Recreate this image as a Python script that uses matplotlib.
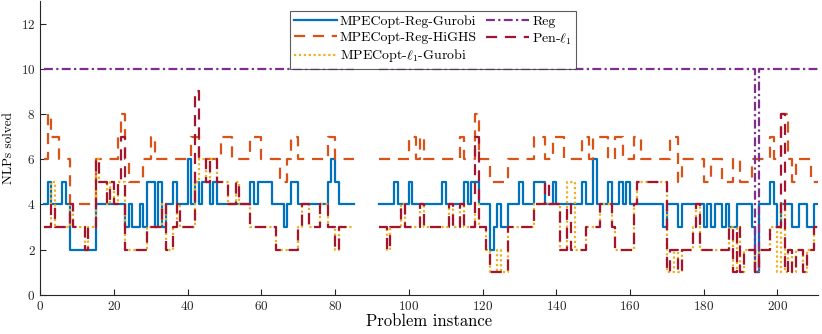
import numpy as np
import matplotlib
matplotlib.use('Agg')
import matplotlib.pyplot as plt

plt.rcParams['font.family'] = 'serif'
plt.rcParams['font.serif'] = ['cmr10', 'DejaVu Serif']
plt.rcParams['mathtext.fontset'] = 'cm'
plt.rcParams['axes.formatter.use_mathtext'] = True

n = np.nan

# number of NLPs solved per problem instance (instances 1..210)
reg_gurobi = [
    4, 5, 4, 4, 4, 5, 4, 2, 2, 2,
    2, 2, 2, 2, 4, 4, 4, 4, 4, 4,
    4, 4, 3, 4, 3, 3, 4, 3, 5, 5,
    3, 5, 3, 4, 4, 5, 4, 4, 4, 6,
    4, 5, 4, 5, 5, 4, 5, 4, 4, 4,
    4, 4, 4, 4, 4, 4, 5, 4, 5, 5,
    5, 5, 4, 4, 4, 3, 4, 5, 5, 4,
    4, 4, 4, 4, 4, 4, 4, 5, 6, 5,
    4, 4, 4, 4, n, n, n, n, n, n,
    n, 4, 4, 4, 4, 5, 4, 4, 4, 5,
    4, 4, 4, 4, 4, 4, 4, 4, 5, 4,
    4, 4, 4, 4, 5, 4, 5, 5, 4, 4,
    4, 2, 3, 4, 3, 3, 4, 4, 4, 5,
    4, 4, 4, 5, 5, 5, 4, 4, 5, 4,
    4, 4, 4, 4, 4, 4, 5, 4, 4, 6,
    4, 4, 4, 5, 4, 4, 5, 4, 5, 4,
    4, 4, 4, 4, 4, 4, 4, 4, 3, 4,
    4, 4, 3, 4, 4, 4, 4, 4, 4, 3,
    4, 3, 4, 4, 3, 4, 3, 3, 4, 4,
    4, 4, 3, 1, 4, 4, 4, 5, 4, 3,
    4, 4, 4, 3, 3, 4, 4, 3, 3, 4,
]

reg_highs = [
    6, 8, 7, 7, 6, 6, 6, 4, 4, 4,
    4, 4, 4, 4, 6, 6, 6, 6, 6, 6,
    7, 8, 6, 5, 5, 5, 5, 6, 6, 7,
    6, 6, 6, 6, 6, 6, 6, 6, 6, 6,
    7, 7, 6, 6, 6, 6, 6, 6, 7, 7,
    7, 6, 6, 6, 6, 6, 7, 7, 7, 6,
    6, 6, 6, 6, 5, 5, 6, 7, 7, 6,
    6, 6, 6, 6, 6, 6, 6, 7, 7, 6,
    6, 6, 6, 6, n, n, n, n, n, n,
    n, 6, 6, 6, 6, 6, 6, 6, 6, 7,
    7, 6, 7, 6, 6, 6, 6, 6, 6, 6,
    6, 6, 6, 7, 6, 6, 6, 8, 6, 6,
    6, 5, 5, 5, 5, 5, 6, 6, 6, 6,
    6, 6, 6, 7, 7, 7, 6, 6, 7, 7,
    7, 6, 6, 6, 6, 6, 7, 7, 6, 7,
    7, 7, 7, 6, 6, 7, 7, 6, 6, 6,
    7, 7, 6, 6, 6, 6, 6, 6, 6, 6,
    7, 7, 5, 6, 6, 6, 6, 6, 6, 5,
    5, 6, 6, 6, 5, 5, 5, 6, 6, 5,
    5, 5, 6, 6, 6, 6, 6, 7, 6, 6,
    8, 8, 6, 5, 6, 6, 6, 6, 5, 5,
]

l1_gurobi = [
    3, 3, 5, 3, 3, 3, 3, 4, 3, 3,
    3, 2, 3, 3, 6, 5, 5, 4, 5, 4,
    5, 5, 2, 2, 2, 2, 2, 2, 3, 3,
    3, 3, 4, 2, 2, 3, 4, 3, 3, 3,
    3, 5, 6, 6, 5, 6, 6, 5, 5, 5,
    4, 4, 5, 4, 4, 4, 3, 3, 3, 3,
    3, 3, 3, 2, 2, 2, 2, 2, 2, 3,
    4, 4, 3, 3, 3, 4, 4, 3, 3, 2,
    3, 3, 3, 3, n, n, n, n, n, n,
    n, 3, 3, 2, 3, 3, 3, 4, 3, 3,
    3, 3, 4, 3, 3, 3, 3, 3, 3, 3,
    4, 3, 3, 4, 3, 3, 3, 4, 3, 3,
    2, 1, 1, 2, 1, 1, 3, 3, 3, 3,
    3, 3, 3, 4, 4, 4, 4, 4, 4, 4,
    2, 2, 5, 5, 2, 2, 2, 3, 3, 3,
    3, 4, 4, 4, 3, 2, 2, 2, 2, 2,
    4, 5, 5, 5, 5, 5, 5, 5, 5, 1,
    1, 2, 1, 2, 2, 2, 3, 4, 2, 2,
    2, 2, 2, 2, 2, 2, 3, 1, 3, 1,
    2, 2, 2, 1, 2, 2, 2, 3, 3, 1,
    4, 1, 2, 1, 2, 2, 1, 2, 2, 3,
]

reg = [10] * 84 + [n] * 7 + [10] * 102 + [1] + [10] * 16

pen_l1 = [
    3, 3, 4, 3, 3, 3, 3, 4, 3, 3,
    3, 2, 3, 3, 6, 5, 5, 4, 5, 4,
    5, 7, 2, 2, 2, 2, 2, 2, 3, 3,
    3, 3, 4, 2, 2, 3, 4, 3, 3, 3,
    3, 9, 6, 6, 5, 6, 6, 5, 5, 5,
    4, 4, 5, 4, 4, 4, 3, 3, 3, 3,
    3, 3, 3, 2, 2, 2, 2, 2, 2, 3,
    4, 4, 3, 3, 3, 4, 4, 3, 3, 2,
    3, 3, 3, 3, n, n, n, n, n, n,
    n, 3, 3, 2, 3, 3, 3, 4, 3, 3,
    3, 3, 4, 3, 3, 3, 3, 3, 3, 3,
    4, 3, 3, 4, 3, 3, 3, 7, 3, 3,
    2, 1, 1, 1, 1, 1, 3, 3, 3, 3,
    3, 3, 3, 4, 4, 4, 5, 4, 4, 4,
    2, 2, 4, 2, 2, 2, 2, 3, 3, 3,
    3, 4, 4, 4, 3, 2, 2, 2, 2, 2,
    4, 5, 5, 5, 5, 5, 5, 5, 5, 1,
    2, 2, 1, 2, 2, 2, 3, 4, 2, 2,
    2, 2, 2, 2, 2, 2, 3, 1, 3, 1,
    2, 2, 2, 1, 2, 2, 2, 3, 3, 3,
    8, 1, 2, 1, 2, 2, 1, 2, 2, 3,
]

series = [
    (reg_gurobi, 'MPECopt-Reg-Gurobi', '#0072BD', '-'),
    (reg_highs, 'MPECopt-Reg-HiGHS', '#D95319', (0, (5, 3.5))),
    (l1_gurobi, r'MPECopt-$\ell_1$-Gurobi', '#EDB120', (0, (1, 1.2))),
    (reg, 'Reg', '#7E2F8E', (0, (4, 1.5, 1, 1.5))),
    (pen_l1, r'Pen-$\ell_1$', '#A2142F', (0, (5, 3.5))),
]

fig = plt.figure(figsize=(8.22, 3.34), dpi=100)
ax = fig.add_axes([0.049, 0.117, 0.946, 0.88])

handles = {}
for vals, label, color, ls in series:
    y = np.array(vals + [vals[-1]], dtype=float)
    x = np.arange(1, len(y) + 1)
    h, = ax.plot(x, y, drawstyle='steps-post', color=color, linestyle=ls,
                 linewidth=1.6, label=label)
    handles[label] = h

order = ['MPECopt-Reg-Gurobi', 'MPECopt-Reg-HiGHS', r'MPECopt-$\ell_1$-Gurobi', 'Reg', r'Pen-$\ell_1$']
leg = ax.legend([handles[k] for k in order], order, loc='upper center',
                bbox_to_anchor=(0.505, 0.99), ncol=2, fontsize=10, frameon=True,
                fancybox=False, edgecolor='#333333', handlelength=3.1,
                handletextpad=0.2, columnspacing=0.7, labelspacing=0.25,
                borderpad=0.3, alignment='left')
leg.get_frame().set_linewidth(0.8)

ax.set_xlim(0, 211)
ax.set_ylim(0, 13)
ax.set_xticks(np.arange(0, 201, 20))
ax.set_yticks(np.arange(0, 13, 2))
ax.tick_params(direction='in', labelsize=9.5, colors='#262626', length=4)
ax.spines['top'].set_visible(False)
ax.spines['right'].set_visible(False)
for s in ['left', 'bottom']:
    ax.spines[s].set_color('#262626')
ax.set_xlabel('Problem instance', fontsize=12, labelpad=1)
ax.set_ylabel('NLPs solved', fontsize=9.5, labelpad=4)

fig.savefig('out.png', dpi=100)
